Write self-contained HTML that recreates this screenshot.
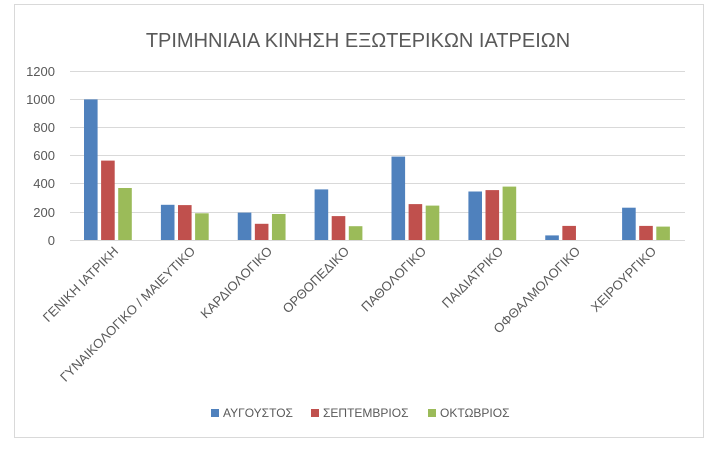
<!DOCTYPE html>
<html><head><style>body{margin:0;background:#fff}</style></head><body>
<svg width="716" height="453" xmlns="http://www.w3.org/2000/svg" font-family="Liberation Sans, DejaVu Sans, sans-serif">
<rect x="14.5" y="4.5" width="689" height="433" fill="#fff" stroke="#d9d9d9"/>
<text x="358" y="47" text-anchor="middle" font-size="20" fill="#595959">ΤΡΙΜΗΝΙΑΙΑ ΚΙΝΗΣΗ ΕΞΩΤΕΡΙΚΩΝ ΙΑΤΡΕΙΩΝ</text>
<g stroke="#d9d9d9" stroke-width="1">
<line x1="70" x2="685" y1="71.5" y2="71.5"/><line x1="70" x2="685" y1="99.5" y2="99.5"/><line x1="70" x2="685" y1="127.5" y2="127.5"/><line x1="70" x2="685" y1="155.5" y2="155.5"/><line x1="70" x2="685" y1="183.5" y2="183.5"/><line x1="70" x2="685" y1="212.5" y2="212.5"/><line x1="70" x2="685" y1="240.5" y2="240.5"/>
</g>
<g font-size="13" fill="#595959" text-anchor="end">
<text x="55" y="76">1200</text><text x="55" y="104">1000</text><text x="55" y="132">800</text><text x="55" y="160">600</text><text x="55" y="188">400</text><text x="55" y="217">200</text><text x="55" y="245">0</text>
</g>
<g fill="#4f81bd">
<rect x="84" y="99.4" width="13.6" height="140.6"/>
<rect x="160.9" y="204.8" width="13.6" height="35.2"/>
<rect x="237.75" y="212.6" width="13.6" height="27.4"/>
<rect x="314.6" y="189.4" width="13.6" height="50.6"/>
<rect x="391.5" y="156.6" width="13.6" height="83.4"/>
<rect x="468.4" y="191.5" width="13.6" height="48.5"/>
<rect x="545.25" y="235.4" width="13.6" height="4.6"/>
<rect x="622.1" y="207.7" width="13.6" height="32.3"/>
</g>
<g fill="#c0504d">
<rect x="101.1" y="160.6" width="13.6" height="79.4"/>
<rect x="178" y="205.1" width="13.6" height="34.9"/>
<rect x="254.85" y="223.8" width="13.6" height="16.2"/>
<rect x="331.7" y="216.1" width="13.6" height="23.9"/>
<rect x="408.6" y="204.1" width="13.6" height="35.9"/>
<rect x="485.5" y="190.1" width="13.6" height="49.9"/>
<rect x="562.35" y="225.9" width="13.6" height="14.1"/>
<rect x="639.2" y="225.9" width="13.6" height="14.1"/>
</g>
<g fill="#9bbb59">
<rect x="118.2" y="188" width="13.6" height="52"/>
<rect x="195.1" y="213.3" width="13.6" height="26.7"/>
<rect x="271.95" y="214" width="13.6" height="26"/>
<rect x="348.8" y="226.2" width="13.6" height="13.8"/>
<rect x="425.7" y="205.6" width="13.6" height="34.4"/>
<rect x="502.6" y="186.6" width="13.6" height="53.4"/>
<rect x="656.3" y="226.6" width="13.6" height="13.4"/>
</g>
<g font-size="13" fill="#595959" text-anchor="end">
<text transform="translate(119,252) rotate(-45)">ΓΕΝΙΚΗ ΙΑΤΡΙΚΗ</text>
<text transform="translate(196,252) rotate(-45)">ΓΥΝΑΙΚΟΛΟΓΙΚΟ / ΜΑΙΕΥΤΙΚΟ</text>
<text transform="translate(273,252) rotate(-45)">ΚΑΡΔΙΟΛΟΓΙΚΟ</text>
<text transform="translate(350,252) rotate(-45)">ΟΡΘΟΠΕΔΙΚΟ</text>
<text transform="translate(427,252) rotate(-45)">ΠΑΘΟΛΟΓΙΚΟ</text>
<text transform="translate(504,252) rotate(-45)">ΠΑΙΔΙΑΤΡΙΚΟ</text>
<text transform="translate(581,252) rotate(-45)">ΟΦΘΑΛΜΟΛΟΓΙΚΟ</text>
<text transform="translate(657,252) rotate(-45)">ΧΕΙΡΟΥΡΓΙΚΟ</text>
</g>
<g font-size="12" fill="#595959">
<rect x="211" y="409" width="8" height="8" fill="#4f81bd"/><text x="223" y="417">ΑΥΓΟΥΣΤΟΣ</text>
<rect x="311" y="409" width="8" height="8" fill="#c0504d"/><text x="323" y="417">ΣΕΠΤΕΜΒΡΙΟΣ</text>
<rect x="428" y="409" width="8" height="8" fill="#9bbb59"/><text x="440" y="417">ΟΚΤΩΒΡΙΟΣ</text>
</g>
</svg>
</body></html>
